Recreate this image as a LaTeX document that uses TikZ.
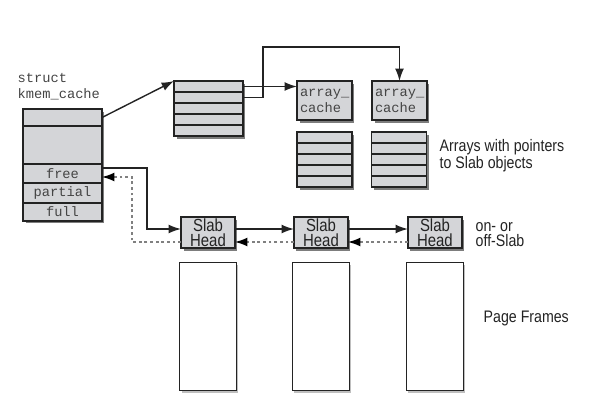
\documentclass[tikz,border=0pt]{standalone}
\usepackage{fontspec}
\setmonofont{Liberation Mono}
\newfontfamily\condsans[FakeStretch=0.85]{Liberation Sans}
\usetikzlibrary{positioning,shadows,arrows.meta}

\definecolor{cellgray}{RGB}{212,213,216}
\definecolor{shadegray}{RGB}{125,125,125}
\definecolor{inkgray}{RGB}{35,35,35}

\tikzset{
	cell/.style={draw=inkgray, fill=cellgray, line width=0.8pt, inner sep=0pt, outer sep=0pt,
		drop shadow={shadow xshift=0.05cm, shadow yshift=-0.05cm, fill=shadegray, opacity=1}},
	code/.style={font=\ttfamily\fontsize{7.8}{9.1}\selectfont, text=inkgray!85},
	note/.style={font=\condsans\fontsize{9.5}{8.6}\selectfont, align=left, inner sep=0pt, text=inkgray},
	slab/.style={cell, note, font=\condsans\fontsize{10}{8.7}\selectfont, align=center,
		minimum width=1.08cm, minimum height=0.62cm},
	pageframe/.style={draw=inkgray, fill=white, line width=0.8pt, minimum width=1.14cm, minimum height=2.56cm,
		drop shadow={shadow xshift=0.04cm, shadow yshift=-0.04cm, fill=gray!50, opacity=1}},
	back/.style={->, >={Latex[length=7pt,width=5pt,color=black]}, draw=gray, line width=0.8pt,
		dash pattern=on 1.6pt off 1.6pt}
}

\begin{document}
\begin{tikzpicture}[x=0.02cm, y=-0.02cm, >={Latex[length=7pt,width=5pt]}, line width=0.8pt, draw=inkgray]
	\useasboundingbox (0,0) rectangle (600,400);

	% struct kmem_cache
	\node[code, align=left, anchor=west, inner sep=0pt] (kclabel) at (17,87) {struct\\kmem\_cache};
	\node[cell, minimum width=1.58cm, minimum height=0.34cm] (kctop) at (62.5,117.5) {};
	\node[cell, minimum width=1.58cm, minimum height=0.76cm, below=0pt of kctop] (kcbody) {};
	\node[cell, code, minimum width=1.58cm, minimum height=0.38cm, below=0pt of kcbody] (free) {free};
	\node[cell, code, minimum width=1.58cm, minimum height=0.40cm, below=0pt of free] (partial) {partial};
	\node[cell, code, minimum width=1.58cm, minimum height=0.36cm, below=0pt of partial] (full) {full};

	% per-cpu pointer array
	\foreach \i in {1,...,5}
		\node[cell, minimum width=1.38cm, minimum height=0.22cm] (ptr\i) at (208.5,75.5+11*\i) {};

	% array_cache objects
	\node[cell, code, inner xsep=0.06cm, text width=0.98cm, minimum height=0.78cm, align=left] (ac1) at (324.5,100.5) {array\_\\cache};
	\node[cell, code, inner xsep=0.06cm, text width=0.98cm, minimum height=0.78cm, align=left] (ac2) at (399.5,100.5) {array\_\\cache};
	\foreach \i in {1,...,5} {
		\node[cell, minimum width=1.1cm, minimum height=0.22cm] (arrA\i) at (324.5,126.5+11*\i) {};
		\node[cell, minimum width=1.1cm, minimum height=0.22cm] (arrB\i) at (399,126.5+11*\i) {};
	}
	\node[note, anchor=west] (arrtext) at (439,156) {Arrays with pointers\\to Slab objects};

	% slabs
	\node[slab] (head1) at (208,232.5) {Slab\\Head};
	\node[slab, right=1.18cm of head1] (head2) {Slab\\Head};
	\node[slab, right=1.2cm of head2] (head3) {Slab\\Head};
	\node[pageframe, below=0.28cm of head1] (page1) {};
	\node[pageframe, below=0.28cm of head2] (page2) {};
	\node[pageframe, below=0.28cm of head3] (page3) {};
	\node[note, anchor=west] (ontext) at (475,235) {on- or\\off-Slab};
	\node[note, anchor=west] (pftext) at (483,318) {Page Frames};

	\draw[->] (kctop.east) -- (ptr1.north west);
	\draw[->] (ptr1.east) -- (ptr1.east -| ac1.west);
	\draw[->] (ptr2.east) -- ++(20,0) |- ([yshift=0.68cm]ac2.north) -- (ac2.north);

	\draw[->] ([yshift=0.11cm]free.east) -- ++(45,0) |- ([yshift=0.07cm]head1.west);
	\draw[->] ([yshift=0.07cm]head1.east) -- ([yshift=0.07cm]head2.west);
	\draw[->] ([yshift=0.07cm]head2.east) -- ([yshift=0.07cm]head3.west);
	\draw[back] ([yshift=-0.19cm]head3.west) -- ([yshift=-0.19cm]head2.east);
	\draw[back] ([yshift=-0.19cm]head2.west) -- ([yshift=-0.19cm]head1.east);
	\draw[back] ([yshift=-0.19cm]head1.west) -- ++(-49,0) |- ([yshift=-0.07cm]free.east);
\end{tikzpicture}
\end{document}
